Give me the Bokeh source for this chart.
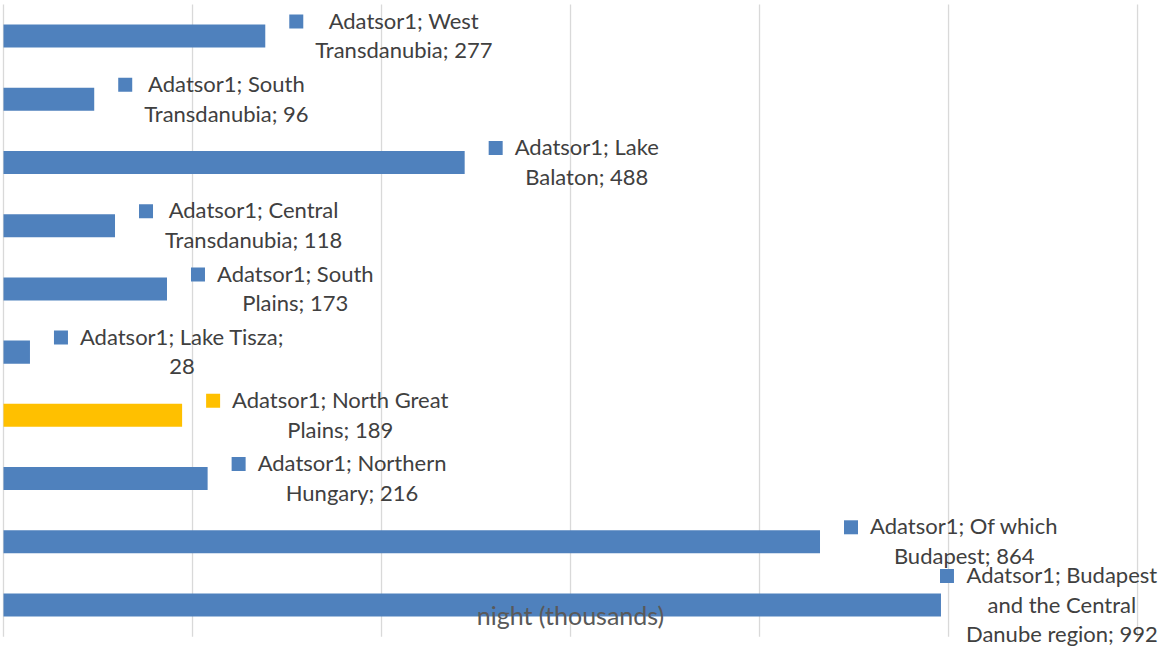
import textwrap

from bokeh.core.properties import value
from bokeh.embed import file_html
from bokeh.models import ColumnDataSource, Label, Range1d
from bokeh.plotting import figure
from bokeh.resources import INLINE

# Guest nights by tourism region (thousands)
series_name = "Adatsor1"
regions = [
    "West Transdanubia",
    "South Transdanubia",
    "Lake Balaton",
    "Central Transdanubia",
    "South Plains",
    "Lake Tisza",
    "North Great Plains",
    "Northern Hungary",
    "Of which Budapest",
    "Budapest and the Central Danube region",
]
guest_nights = [277, 96, 488, 118, 173, 28, 189, 216, 864, 992]
highlight_region = "North Great Plains"
axis_title = "night (thousands)"
grid_ticks = [0, 200, 400, 600, 800, 1000, 1200]

# Layout / style
W, H = 1160, 647
X_START, X_END = -3.175, 1224.3
Y_TOP, Y_BOTTOM = -0.5615, 9.672
PX_X = W / (X_END - X_START)      # pixels per data unit (x)
PX_Y = H / (Y_BOTTOM - Y_TOP)     # pixels per category step (y)
BLUE, GOLD = "#4f81bd", "#ffc000"
LABEL_FONT = "Lato"
LABEL_SIZE = 22
LINE_PX = 29
label_shift = [0, 0, 0, 0, 0, 0, 0, 0, 0, -25]   # label nudged left to stay inside the chart

ypos = list(range(len(regions)))
colors = [GOLD if r == highlight_region else BLUE for r in regions]
label_lines = [textwrap.wrap(f"{series_name}; {r}; {v}", width=21) for r, v in zip(regions, guest_nights)]
label_text = ["\n".join(lines) for lines in label_lines]
n_lines = [len(lines) for lines in label_lines]

src = ColumnDataSource(dict(
    y=ypos,
    v=guest_nights,
    color=colors,
    label=label_text,
    text_dx=[50 + s for s in label_shift],
    key_x=[v + (31 + s) / PX_X for v, s in zip(guest_nights, label_shift)],
    key_y=[y - ((n - 1) * LINE_PX / 2) / PX_Y for y, n in zip(ypos, n_lines)],
))

p = figure(
    width=W, height=H,
    x_range=Range1d(X_START, X_END),
    y_range=Range1d(Y_BOTTOM, Y_TOP),
    x_axis_type=None, y_axis_type=None,
    toolbar_location=None, output_backend="svg",
    min_border=0, outline_line_color=None,
    background_fill_color="white", border_fill_color="white",
)
p.xgrid.visible = False
p.ygrid.visible = False

# vertical gridlines at the value ticks
p.segment(x0=grid_ticks, x1=grid_ticks, y0=[-0.5] * len(grid_ticks), y1=[9.5] * len(grid_ticks),
          line_color="#d9d9d9", line_width=1.3)

# bars
p.hbar(y="y", left=0, right="v", height=0.364, fill_color="color", line_color=None, source=src)

# data label keys
p.rect(x="key_x", y="key_y", width=14, height=14, width_units="screen", height_units="screen",
       fill_color="color", line_color=None, source=src)

# data labels
p.text(x="v", y="y", text="label", x_offset="text_dx", y_offset=-1, source=src,
       anchor="center_left", text_align="center", text_baseline="middle",
       text_font=value(LABEL_FONT), text_font_size=f"{LABEL_SIZE}px",
       text_line_height=1.1, text_color="#404040")

# value axis title
p.add_layout(Label(x=600, y=9.16, text=axis_title, text_align="center", text_baseline="middle",
                   text_font=LABEL_FONT, text_font_size="25px", text_color="#595959"))

open("out.html", "w").write(file_html(p, INLINE))
